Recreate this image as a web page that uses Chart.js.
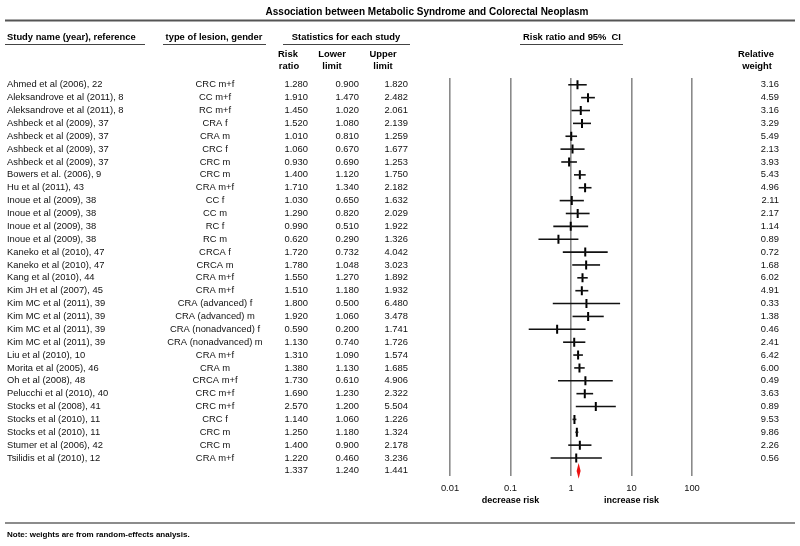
<!DOCTYPE html>
<html>
<head>
<meta charset="utf-8">
<script src="https://cdn.jsdelivr.net/npm/chart.js@4.4.1/dist/chart.umd.min.js"></script>
<style>
  html, body { margin: 0; padding: 0; background: #fff; }
  #wrap { width: 800px; height: 546px; }
</style>
</head>
<body>
<div id="wrap"><canvas id="forest" width="800" height="546"></canvas></div>
<script>
const studies = [
  'Ahmed et al (2006), 22', 'Aleksandrove et al (2011), 8', 'Aleksandrove et al (2011), 8',
  'Ashbeck et al (2009), 37', 'Ashbeck et al (2009), 37', 'Ashbeck et al (2009), 37',
  'Ashbeck et al (2009), 37', 'Bowers et al. (2006), 9', 'Hu et al (2011), 43',
  'Inoue et al (2009), 38', 'Inoue et al (2009), 38', 'Inoue et al (2009), 38',
  'Inoue et al (2009), 38', 'Kaneko et al (2010), 47', 'Kaneko et al (2010), 47',
  'Kang et al (2010), 44', 'Kim JH et al (2007), 45', 'Kim MC et al (2011), 39',
  'Kim MC et al (2011), 39', 'Kim MC et al (2011), 39', 'Kim MC et al (2011), 39',
  'Liu et al (2010), 10', 'Morita et al (2005), 46', 'Oh et al (2008), 48',
  'Pelucchi et al (2010), 40', 'Stocks et al (2008), 41', 'Stocks et al (2010), 11',
  'Stocks et al (2010), 11', 'Stumer et al (2006), 42', 'Tsilidis et al (2010), 12'
];
const lesions = [
  'CRC m+f', 'CC m+f', 'RC m+f', 'CRA f', 'CRA m', 'CRC f', 'CRC m', 'CRC m', 'CRA m+f',
  'CC f', 'CC m', 'RC f', 'RC m', 'CRCA f', 'CRCA m', 'CRA m+f', 'CRA m+f',
  'CRA (advanced) f', 'CRA (advanced) m', 'CRA (nonadvanced) f', 'CRA (nonadvanced) m',
  'CRA m+f', 'CRA m', 'CRCA m+f', 'CRC m+f', 'CRC m+f', 'CRC f', 'CRC m', 'CRC m', 'CRA m+f'
];
const riskRatio = [1.280, 1.910, 1.450, 1.520, 1.010, 1.060, 0.930, 1.400, 1.710, 1.030, 1.290, 0.990, 0.620,
  1.720, 1.780, 1.550, 1.510, 1.800, 1.920, 0.590, 1.130, 1.310, 1.380, 1.730, 1.690, 2.570, 1.140, 1.250, 1.400, 1.220];
const lowerLimit = [0.900, 1.470, 1.020, 1.080, 0.810, 0.670, 0.690, 1.120, 1.340, 0.650, 0.820, 0.510, 0.290,
  0.732, 1.048, 1.270, 1.180, 0.500, 1.060, 0.200, 0.740, 1.090, 1.130, 0.610, 1.230, 1.200, 1.060, 1.180, 0.900, 0.460];
const upperLimit = [1.820, 2.482, 2.061, 2.139, 1.259, 1.677, 1.253, 1.750, 2.182, 1.632, 2.029, 1.922, 1.326,
  4.042, 3.023, 1.892, 1.932, 6.480, 3.478, 1.741, 1.726, 1.574, 1.685, 4.906, 2.322, 5.504, 1.226, 1.324, 2.178, 3.236];
const relWeight = ['3.16', '4.59', '3.16', '3.29', '5.49', '2.13', '3.93', '5.43', '4.96', '2.11', '2.17', '1.14', '0.89',
  '0.72', '1.68', '6.02', '4.91', '0.33', '1.38', '0.46', '2.41', '6.42', '6.00', '0.49', '3.63', '0.89', '9.53', '9.86', '2.26', '0.56'];
const summary = { rr: 1.337, lower: 1.240, upper: 1.441 };
const xTicks = [0.01, 0.1, 1, 10, 100];
const xTickLabels = ['0.01', '0.1', '1', '10', '100'];

const rows = riskRatio.length; // summary row sits right after the last study

const FONT = '"Liberation Sans", Arial, sans-serif';

const tablePlugin = {
  id: 'forestTable',
  afterDatasetsDraw(chart) {
    const { ctx, scales: { x, y } } = chart;
    ctx.save();
    // confidence intervals
    ctx.strokeStyle = '#111';
    ctx.lineWidth = 1.6;
    for (let i = 0; i < rows; i++) {
      const py = y.getPixelForValue(i);
      ctx.beginPath();
      ctx.moveTo(x.getPixelForValue(lowerLimit[i]), py);
      ctx.lineTo(x.getPixelForValue(upperLimit[i]), py);
      ctx.stroke();
    }
    // summary diamond
    const sy = y.getPixelForValue(rows);
    ctx.fillStyle = '#ee1111';
    ctx.beginPath();
    ctx.moveTo(x.getPixelForValue(summary.lower), sy);
    ctx.lineTo(x.getPixelForValue(summary.rr), y.getPixelForValue(rows - 0.62));
    ctx.lineTo(x.getPixelForValue(summary.upper), sy);
    ctx.lineTo(x.getPixelForValue(summary.rr), y.getPixelForValue(rows + 0.62));
    ctx.closePath();
    ctx.fill();
    ctx.restore();
  },
  afterDraw(chart) {
    const { ctx, scales: { x, y } } = chart;
    ctx.save();
    ctx.textBaseline = 'middle';

    // title and rules
    ctx.fillStyle = '#000';
    ctx.font = 'bold 10px ' + FONT;
    ctx.textAlign = 'center';
    ctx.fillText('Association between Metabolic Syndrome and Colorectal Neoplasm', 427, 12);
    ctx.strokeStyle = '#555';
    ctx.lineWidth = 2;
    ctx.beginPath(); ctx.moveTo(5, 20.5); ctx.lineTo(795, 20.5); ctx.stroke();
    ctx.lineWidth = 1.5;
    ctx.strokeStyle = '#666';
    ctx.beginPath(); ctx.moveTo(5, 523); ctx.lineTo(795, 523); ctx.stroke();

    // column headers
    ctx.font = 'bold 9.4px ' + FONT;
    ctx.textAlign = 'left';
    ctx.fillText('Study name (year), reference', 7, 37);
    ctx.textAlign = 'center';
    ctx.fillText('type of lesion, gender', 214, 37);
    ctx.fillText('Statistics for each study', 346, 37);
    ctx.fillText('Risk ratio and 95%  CI', 572, 37);
    ctx.strokeStyle = '#444';
    ctx.lineWidth = 1;
    [[5, 145], [163, 266], [283, 410], [520, 623]].forEach(([a, b]) => {
      ctx.beginPath(); ctx.moveTo(a, 44.5); ctx.lineTo(b, 44.5); ctx.stroke();
    });
    ctx.fillText('Risk', 288, 54);
    ctx.fillText('ratio', 289, 66);
    ctx.fillText('Lower', 332, 54);
    ctx.fillText('limit', 332, 66);
    ctx.fillText('Upper', 383, 54);
    ctx.fillText('limit', 383, 66);
    ctx.fillText('Relative', 756, 54);
    ctx.fillText('weight', 757, 66);

    // rows
    ctx.font = '9.4px ' + FONT;
    ctx.fillStyle = '#111';
    for (let i = 0; i < rows; i++) {
      const py = y.getPixelForValue(i);
      ctx.textAlign = 'left';
      ctx.fillText(studies[i], 7, py);
      ctx.textAlign = 'center';
      ctx.fillText(lesions[i], 215, py);
      ctx.textAlign = 'right';
      ctx.fillText(riskRatio[i].toFixed(3), 308, py);
      ctx.fillText(lowerLimit[i].toFixed(3), 359, py);
      ctx.fillText(upperLimit[i].toFixed(3), 408, py);
      ctx.fillText(relWeight[i], 779, py);
    }
    const sy = y.getPixelForValue(rows);
    ctx.textAlign = 'right';
    ctx.fillText(summary.rr.toFixed(3), 308, sy);
    ctx.fillText(summary.lower.toFixed(3), 359, sy);
    ctx.fillText(summary.upper.toFixed(3), 408, sy);

    // direction labels
    ctx.font = 'bold 9px ' + FONT;
    ctx.fillStyle = '#000';
    ctx.textAlign = 'center';
    ctx.fillText('decrease risk', x.getPixelForValue(0.1), 501);
    ctx.fillText('increase risk', x.getPixelForValue(10), 501);

    // note
    ctx.font = 'bold 8px ' + FONT;
    ctx.textAlign = 'left';
    ctx.fillText('Note: weights are from random-effects analysis.', 7, 535);
    ctx.restore();
  }
};

new Chart(document.getElementById('forest'), {
  type: 'scatter',
  data: {
    datasets: [{
      data: riskRatio.map((v, i) => ({ x: v, y: i })),
      pointStyle: 'line',
      rotation: 90,
      radius: 4.5,
      hoverRadius: 4.5,
      borderWidth: 2,
      borderColor: '#000',
      backgroundColor: '#000'
    }]
  },
  options: {
    responsive: false,
    animation: false,
    events: [],
    layout: { padding: { left: 450, right: 108, top: 78, bottom: 45 } },
    plugins: { legend: { display: false }, tooltip: { enabled: false } },
    scales: {
      x: {
        type: 'logarithmic',
        min: 0.01,
        max: 100,
        afterBuildTicks: axis => { axis.ticks = xTicks.map(v => ({ value: v })); },
        ticks: {
          autoSkip: false,
          maxRotation: 0,
          padding: 7,
          color: '#111',
          font: { family: FONT, size: 9.4 },
          callback: (v, i) => xTickLabels[i]
        },
        grid: { color: '#8a8a8a', lineWidth: 1.6, drawTicks: false },
        border: { display: false }
      },
      y: {
        type: 'linear',
        display: false,
        reverse: true,
        min: -0.526,
        max: rows + 0.376
      }
    }
  },
  plugins: [tablePlugin]
});
</script>
</body>
</html>
